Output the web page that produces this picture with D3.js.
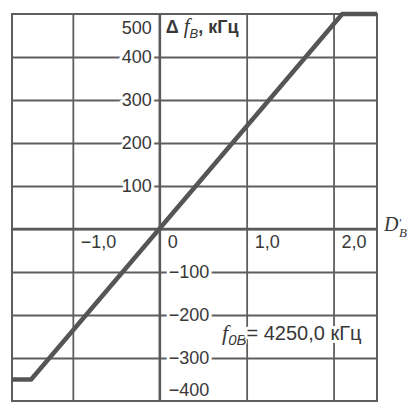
<!DOCTYPE html>
<html>
 <head>
  <style>
  body { margin: 0; background: #fff; }
  svg { font-family: "Liberation Sans", Arial, sans-serif; }
  .grid line { stroke: #5e5e5e; stroke-width: 1.8; }
  .grid path { display: none; }
  .lbl { fill: #383838; font-size: 18px; stroke: #fff; stroke-width: 6; paint-order: stroke; stroke-linejoin: round; }
  .sub { stroke-width: 2; }
  </style>
  <script src="https://cdnjs.cloudflare.com/ajax/libs/d3/7.8.3/d3.min.js"></script>
 </head>
 <body>
  <script>
   // values
   const xDomain = [-1.7, 2.5];
   const yDomain = [-400, 500];
   const xGridTicks = [-1, 0, 1, 2];
   const yGridTicks = [-300, -200, -100, 0, 100, 200, 300, 400];
   const xLabels = [["\u22121,0", -1], ["0", 0], ["1,0", 1], ["2,0", 2]];
   const yLabelsPos = [100, 200, 300, 400];
   const yLabelsNeg = [-100, -200, -300];
   const curveD = [-1.7, -1.48, 2.1, 2.5];
   const curveF = [-350, -350, 500, 500];

   const w = 419;
   const h = 413;
   const x = d3.scaleLinear().domain(xDomain).range([12, 377]);
   const y = d3.scaleLinear().domain(yDomain).range([401, 14]);

   const svg = d3.select("body")
                 .append("svg")
                 .attr("width", w)
                 .attr("height", h);

   // grid
   svg.append("g")
      .attr("class", "grid")
      .attr("transform", "translate(" + x.range()[0] + ",0)")
      .call(d3.axisLeft(y).tickValues(yGridTicks).tickSize(-(x.range()[1] - x.range()[0])).tickFormat(""));
   svg.append("g")
      .attr("class", "grid")
      .attr("transform", "translate(0," + y.range()[1] + ")")
      .call(d3.axisTop(x).tickValues(xGridTicks).tickSize(-(y.range()[0] - y.range()[1])).tickFormat(""));

   // frame
   svg.append("rect")
      .attr("x", x.range()[0])
      .attr("y", y.range()[1])
      .attr("width", x.range()[1] - x.range()[0])
      .attr("height", y.range()[0] - y.range()[1])
      .attr("fill", "none")
      .attr("stroke", "#5e5e5e")
      .attr("stroke-width", 2);

   // main axes a bit heavier
   svg.append("line")
      .attr("x1", x(0)).attr("x2", x(0))
      .attr("y1", y.range()[1]).attr("y2", y.range()[0])
      .attr("stroke", "#5a5a5a").attr("stroke-width", 2.4);
   svg.append("line")
      .attr("x1", x.range()[0]).attr("x2", x.range()[1])
      .attr("y1", y(0)).attr("y2", y(0))
      .attr("stroke", "#5a5a5a").attr("stroke-width", 2.4);

   // y labels
   svg.selectAll(".ypos")
      .data(yLabelsPos)
      .enter()
      .append("text")
      .attr("class", "lbl")
      .attr("x", x(0) - 8)
      .attr("y", d => y(d) + 6)
      .attr("text-anchor", "end")
      .text(d => d);
   svg.append("text")
      .attr("class", "lbl")
      .attr("x", x(0) - 8)
      .attr("y", y(500) + 20)
      .attr("text-anchor", "end")
      .text("500");
   svg.selectAll(".yneg")
      .data(yLabelsNeg)
      .enter()
      .append("text")
      .attr("class", "lbl")
      .attr("x", x(0) + 9)
      .attr("y", d => y(d) + 6)
      .text(d => "\u2212" + Math.abs(d));
   svg.append("text")
      .attr("class", "lbl")
      .attr("x", x(0) + 9)
      .attr("y", y(-400) - 5)
      .text("\u2212400");

   // x labels
   svg.selectAll(".xl")
      .data(xLabels)
      .enter()
      .append("text")
      .attr("class", "lbl")
      .attr("x", d => x(d[1]) + 8)
      .attr("y", y(0) + 19)
      .text(d => d[0]);

   // curve
   const pts = curveD.map((d, i) => [d, curveF[i]]);
   svg.append("path")
      .datum(pts)
      .attr("d", d3.line().x(d => x(d[0])).y(d => y(d[1])))
      .attr("fill", "none")
      .attr("stroke", "#555")
      .attr("stroke-width", 4.5)
      .attr("stroke-linejoin", "round");

   // axis titles
   const yt = svg.append("text")
      .attr("class", "lbl")
      .attr("x", x(0) + 6)
      .attr("y", y(500) + 19)
      .style("font-weight", "bold")
      .style("stroke-width", 2);
   yt.append("tspan").text("\u0394 ");
   yt.append("tspan").style("font-style", "italic").style("font-weight", "normal").style("font-family", "Liberation Serif").style("font-size", "21px").text("f");
   yt.append("tspan").attr("dy", 5).style("font-size", "13px").style("font-style", "italic").style("font-weight", "normal").text("B");
   yt.append("tspan").attr("dy", -5).text(", кГц");

   const xt = svg.append("text")
      .attr("x", 384)
      .attr("y", 231)
      .attr("fill", "#383838")
      .style("font-family", "Liberation Serif")
      .style("font-style", "italic")
      .style("font-size", "20px");
   xt.append("tspan").text("D");
   xt.append("tspan").attr("dx", 0).attr("dy", -4).style("font-size", "12px").text("\u2032");
   xt.append("tspan").attr("dx", -2).attr("dy", 10).style("font-size", "13px").text("B");

   const note = svg.append("text")
      .attr("class", "lbl")
      .attr("x", 222)
      .attr("y", 340)
      .style("font-size", "20px");
   note.append("tspan").style("font-style", "italic").style("font-family", "Liberation Serif").style("font-size", "22px").text("f");
   note.append("tspan").attr("class", "sub").attr("dy", 5).style("font-size", "15px").style("font-style", "italic").text("0B");
   note.append("tspan").attr("dy", -5).text("= 4250,0 кГц");
  </script>
 </body>
</html>
